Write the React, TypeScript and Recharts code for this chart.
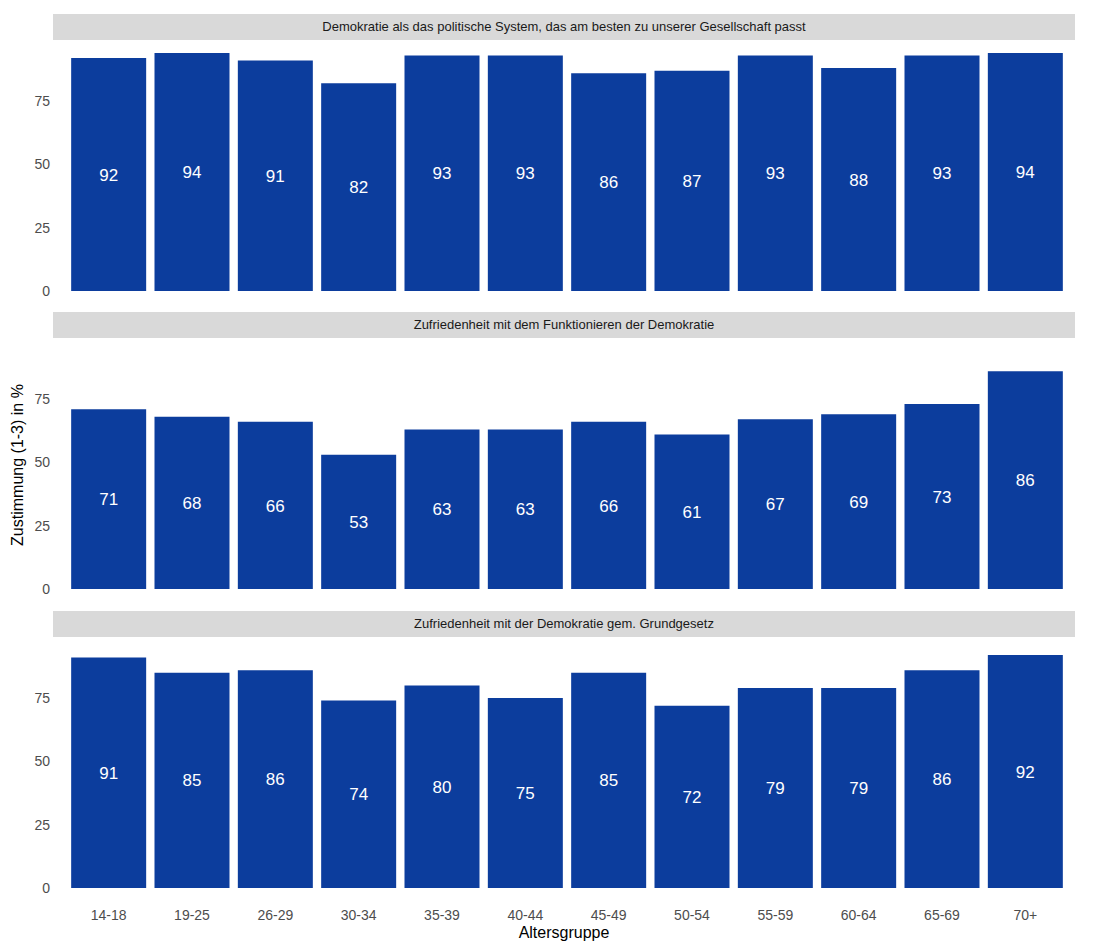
import React from 'react';
import { BarChart, Bar, XAxis, YAxis, LabelList } from 'recharts';

const ageGroups = ['14-18', '19-25', '26-29', '30-34', '35-39', '40-44', '45-49', '50-54', '55-59', '60-64', '65-69', '70+'];

const bestSystem = [92, 94, 91, 82, 93, 93, 86, 87, 93, 88, 93, 94];
const functioning = [71, 68, 66, 53, 63, 63, 66, 61, 67, 69, 73, 86];
const grundgesetz = [91, 85, 86, 74, 80, 75, 85, 72, 79, 79, 86, 92];

const panelTitles = [
  'Demokratie als das politische System, das am besten zu unserer Gesellschaft passt',
  'Zufriedenheit mit dem Funktionieren der Demokratie',
  'Zufriedenheit mit der Demokratie gem. Grundgesetz',
];

const yTicks = [0, 25, 50, 75];

const FONT = '"Liberation Sans", Arial, Helvetica, sans-serif';
const BAR_COLOR = '#0c3d9d';

const panels = [
  { title: panelTitles[0], values: bestSystem, top: 41 },
  { title: panelTitles[1], values: functioning, top: 339 },
  { title: panelTitles[2], values: grundgesetz, top: 638 },
];

const PLOT_H = 262;

const Panel: React.FC<{ title: string; values: number[]; top: number; showX: boolean }> = ({ title, values, top, showX }) => {
  const data = ageGroups.map((g, i) => ({ group: g, value: values[i] }));
  return (
    <>
      <div
        style={{
          position: 'absolute',
          left: 53,
          top: top - 27,
          width: 1022,
          height: 26,
          background: '#d9d9d9',
          color: '#1a1a1a',
          fontSize: 13,
          lineHeight: '26px',
          textAlign: 'center',
          fontFamily: FONT,
        }}
      >
        {title}
      </div>
      <div style={{ position: 'absolute', left: 0, top }}>
        <BarChart
          width={1114}
          height={PLOT_H + (showX ? 30 : 0)}
          data={data}
          margin={{ top: 0, right: 39, left: 0, bottom: 0 }}
          barCategoryGap="5%"
        >
          <XAxis
            dataKey="group"
            hide={!showX}
            height={30}
            axisLine={false}
            tickLine={false}
            tickSize={0}
            tickMargin={10}
            interval={0}
            padding={{ left: 14, right: 8 }}
            tick={{ fill: '#4d4d4d', fontSize: 14, fontFamily: FONT }}
          />
          <YAxis
            width={53}
            domain={[-4.7, 98.7]}
            allowDataOverflow
            ticks={yTicks}
            axisLine={false}
            tickLine={false}
            tickSize={0}
            tickMargin={3}
            tick={{ fill: '#4d4d4d', fontSize: 14, fontFamily: FONT }}
          />
          <Bar dataKey="value" fill={BAR_COLOR} isAnimationActive={false}>
            <LabelList dataKey="value" position="center" fill="#ffffff" fontSize={17} fontFamily={FONT} />
          </Bar>
        </BarChart>
      </div>
    </>
  );
};

export default function App() {
  return (
    <div style={{ position: 'absolute', left: 0, top: 0, width: 1114, height: 943, background: '#ffffff', fontFamily: FONT }}>
      {panels.map((p, i) => (
        <Panel key={p.title} title={p.title} values={p.values} top={p.top} showX={i === panels.length - 1} />
      ))}
      <div
        style={{
          position: 'absolute',
          left: 18,
          top: 465,
          transform: 'translate(-50%, -50%) rotate(-90deg)',
          whiteSpace: 'nowrap',
          fontSize: 16,
          color: '#000000',
        }}
      >
        Zustimmung (1-3) in %
      </div>
      <div
        style={{
          position: 'absolute',
          left: 53,
          width: 1022,
          top: 924,
          textAlign: 'center',
          fontSize: 16,
          color: '#000000',
        }}
      >
        Altersgruppe
      </div>
    </div>
  );
}
